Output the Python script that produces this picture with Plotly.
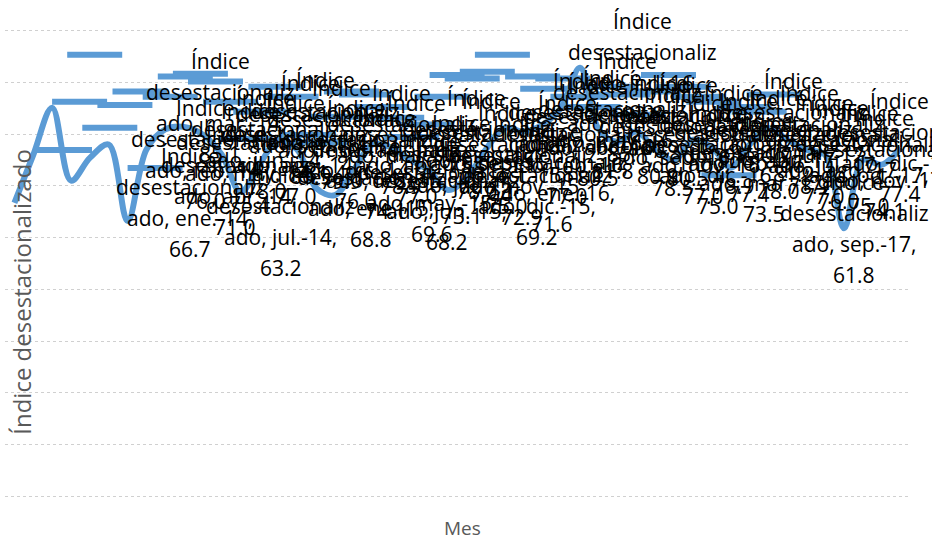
import plotly.graph_objects as go

# ---- data ----
meses = ["ene.", "feb.", "mar.", "abr.", "may.", "jun.",
         "jul.", "ago.", "sep.", "oct.", "nov.", "dic."]
anios = ["14", "15", "16", "17"]
categorias = [f"{m}-{a}" for a in anios for m in meses]

indice = [66.7, 76.0, 85.1, 71.0, 75.4, 78.0, 63.2, 77.0, 80.9, 81.4, 79.9, 76.0,
          68.8, 74.1, 78.9, 77.0, 69.6, 68.2, 73.1, 78.0, 77.4, 75.0, 72.9, 69.2,
          71.6, 77.0, 81.2, 80.5, 81.8, 85.1, 92.8, 80.9, 78.5, 80.5, 77.0, 75.0,
          78.9, 77.4, 73.5, 78.0, 81.2, 78.9, 77.0, 76.0, 61.8, 75.0, 74.1, 77.4]

serie = "Índice desestacionalizado"
y_ticks = [10, 20, 30, 40, 50, 60, 70, 80, 90, 100]

# ---- layout constants ----
W, H = 932, 546
ML, MR, MT, MB = 5, 22, 28, 47
BLUE = "#5B9BD5"
FONT = "Open Sans"

fig = go.Figure()
fig.add_trace(go.Scatter(
    x=categorias, y=indice, mode="lines", name=serie,
    line=dict(color=BLUE, width=6, shape="spline", smoothing=1.0),
    hoverinfo="skip", showlegend=False,
))

n = len(categorias)
plot_w = W - ML - MR
step = plot_w / n
annotations = []
shapes = []
line_offsets = [46.5, 15.5, -15.5, -46.5]
for i, (cat, val) in enumerate(zip(categorias, indice)):
    px_point = ML + step * (i + 0.5)
    px_label = 190 + 15.1 * i
    dx = px_label - px_point
    textos = ["Índice", "desestacionaliz", f"ado, {cat},", f"{val:.1f}"]
    for t, off in zip(textos, line_offsets):
        annotations.append(dict(
            x=cat, y=val, xref="x", yref="y", text=t, showarrow=False,
            xanchor="center", yanchor="middle", xshift=dx, yshift=off,
            font=dict(family=FONT, size=21, color="#000000"),
        ))
    shapes.append(dict(
        type="line", xref="x", yref="y",
        xsizemode="pixel", ysizemode="pixel",
        xanchor=i, yanchor=val,
        x0=dx - 153, x1=dx - 98, y0=53, y1=53,
        line=dict(color=BLUE, width=6),
    ))

annotations.append(dict(
    text=serie, xref="paper", yref="paper", x=0.0188, y=0.44,
    xanchor="center", yanchor="middle", textangle=-90, showarrow=False,
    font=dict(family=FONT, size=24, color="#595959"),
))
annotations.append(dict(
    text="Mes", xref="paper", yref="paper", x=0.506, y=-0.061,
    xanchor="center", yanchor="middle", showarrow=False,
    font=dict(family=FONT, size=19, color="#595959"),
))

fig.update_layout(
    width=W, height=H,
    margin=dict(l=ML, r=MR, t=MT, b=MB),
    paper_bgcolor="white", plot_bgcolor="white",
    annotations=annotations, shapes=shapes,
    showlegend=False,
)
fig.update_xaxes(
    type="category", range=[-0.5, n - 0.5], autorange=False,
    showticklabels=False, showgrid=False, zeroline=False,
    showline=False, ticks="",
)
fig.update_yaxes(
    range=[9.5, 100.5], autorange=False, tickvals=y_ticks, showticklabels=False,
    showgrid=True, gridcolor="#D0D0D0", gridwidth=1, griddash="dot",
    zeroline=False, showline=False, ticks="",
)

fig.write_html("out.html", config={"displayModeBar": False},
               post_script="document.body.style.margin='0px';")
